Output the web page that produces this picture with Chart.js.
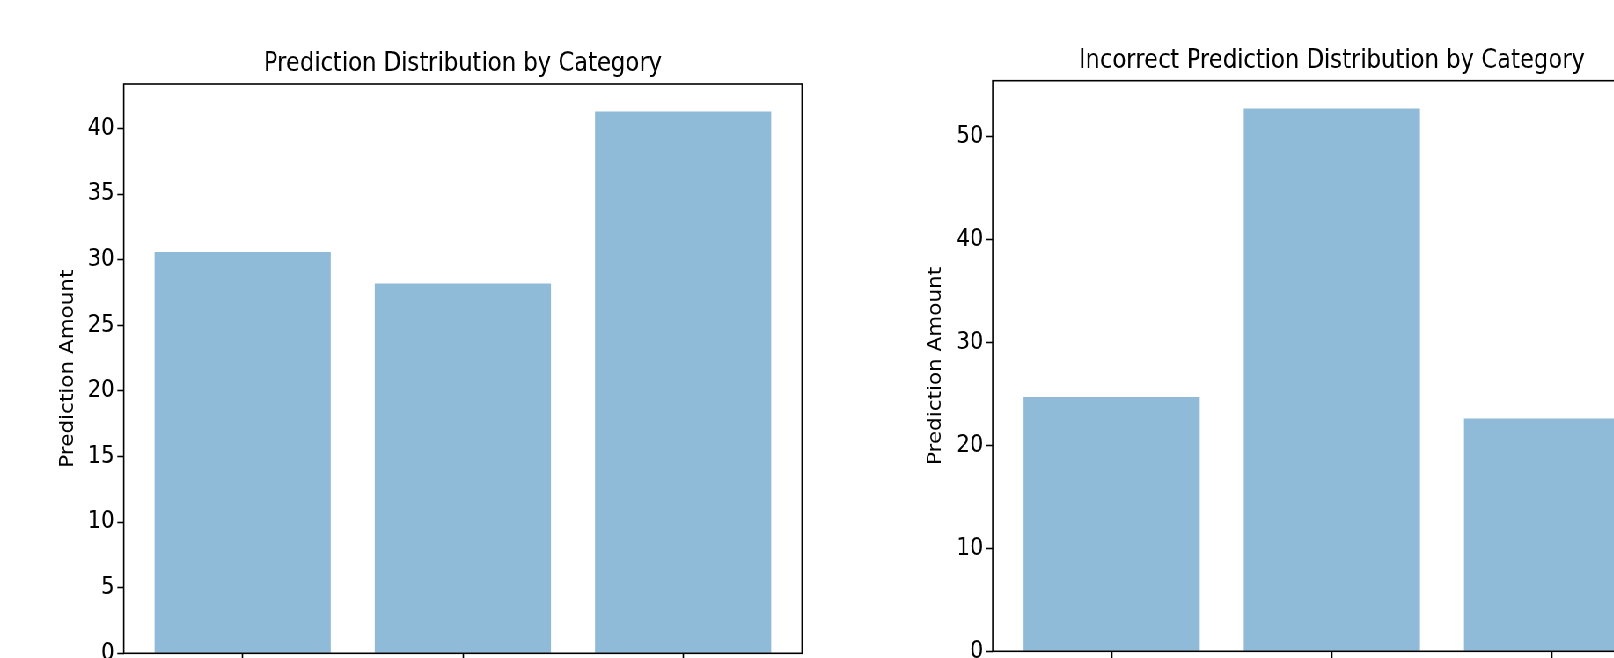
<!DOCTYPE html>
<html>
<head>
<meta charset="utf-8">
<script src="https://cdn.jsdelivr.net/npm/chart.js@4"></script>
<style>
  html, body { margin: 0; padding: 0; background: #fff; overflow: hidden; width: 1614px; height: 658px; }
  #figure { position: absolute; left: 0; top: 0; width: 2000px; height: 720px; transform: scaleX(0.88); transform-origin: 0 0; }
  #figure canvas { position: absolute; top: 0; }
</style>
</head>
<body>
<div id="figure">
  <canvas id="overall" width="1000" height="720" style="left:0"></canvas>
  <canvas id="incorrect" width="1000" height="720" style="left:1000px"></canvas>
</div>
<script>
// Share of predictions per category (percent)
const categories = ['Category 1', 'Category 2', 'Category 3'];
const predictionShare = [30.6, 28.2, 41.3];
const incorrectShare = [24.7, 52.7, 22.6];

// Y-axis tick values for each panel
const overallTicks = [0, 5, 10, 15, 20, 25, 30, 35, 40];
const incorrectTicks = [0, 10, 20, 30, 40, 50];

const FONT = 'DejaVu Sans';
const TICK_PX = 24;
const LABEL_PX = 21.5;
const TITLE_PX = 25.8;
const BAR_COLOR = 'rgba(31,119,180,0.5)';
const CANVAS_W = 1000, CANVAS_H = 720;

// Box spines drawn over the bars
const framePlugin = {
  id: 'frame',
  afterDatasetsDraw(chart) {
    const { ctx, chartArea: a } = chart;
    ctx.save();
    ctx.strokeStyle = '#000';
    ctx.lineWidth = 1.6;
    ctx.strokeRect(a.left, a.top, a.right - a.left, a.bottom - a.top);
    ctx.restore();
  }
};

function drawPanel(id, titleText, values, yTicks, yMax, g) {
  const titleLH = TITLE_PX * 1.2;
  const labelLH = LABEL_PX * 1.2;
  const titlePadTop = g.titleY - titleLH / 2;
  return new Chart(document.getElementById(id), {
    type: 'bar',
    data: {
      labels: categories,
      datasets: [{
        data: values.map((v, i) => ({ x: i, y: v })),
        backgroundColor: BAR_COLOR,
        borderWidth: 0,
        categoryPercentage: 0.8,
        barPercentage: 1.0
      }]
    },
    options: {
      responsive: false,
      animation: false,
      devicePixelRatio: 1,
      layout: { padding: { left: 0, top: 0, bottom: 0, right: CANVAS_W - g.right } },
      plugins: {
        legend: { display: false },
        tooltip: { enabled: false },
        title: {
          display: true,
          text: titleText,
          fullSize: false,
          color: '#000',
          font: { family: FONT, size: TITLE_PX, weight: 'normal', lineHeight: 1.2 },
          padding: { top: titlePadTop, bottom: g.top - titlePadTop - titleLH }
        }
      },
      scales: {
        x: {
          type: 'linear',
          min: -0.54,
          max: 2.54,
          offset: false,
          grid: { offset: false, drawOnChartArea: false, drawTicks: true, tickLength: 7.3, tickWidth: 1.6, tickColor: '#000' },
          border: { display: false },
          ticks: { display: false },
          afterBuildTicks: s => { s.ticks = categories.map((_, i) => ({ value: i })); },
          afterFit: s => { s.height = CANVAS_H - g.bottom; }
        },
        y: {
          min: 0,
          max: yMax,
          grid: { drawOnChartArea: false, drawTicks: true, tickLength: 7.3, tickWidth: 1.6, tickColor: '#000' },
          border: { display: false },
          ticks: { color: '#000', padding: 3.3, font: { family: FONT, size: TICK_PX } },
          afterBuildTicks: s => { s.ticks = yTicks.map(v => ({ value: v })); },
          afterFit: s => { s.width = g.left; },
          title: {
            display: true,
            text: 'Prediction Amount',
            color: '#000',
            font: { family: FONT, size: LABEL_PX, lineHeight: 1.2 },
            padding: { top: g.ylabelX - labelLH / 2, bottom: 0 }
          }
        }
      }
    },
    plugins: [framePlugin]
  });
}

drawPanel('overall', 'Prediction Distribution by Category', predictionShare, overallTicks, 43.4,
  { left: 140.6, right: 911.4, top: 84, bottom: 653.3, titleY: 63.8, ylabelX: 77.4 });

drawPanel('incorrect', 'Incorrect Prediction Distribution by Category', incorrectShare, incorrectTicks, 55.4,
  { left: 128.1, right: 898.9, top: 80.7, bottom: 651.3, titleY: 61.7, ylabelX: 63.8 });
</script>
</body>
</html>
